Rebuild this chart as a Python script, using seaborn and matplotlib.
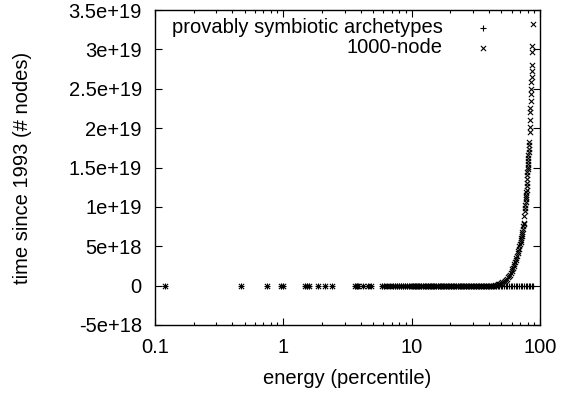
import matplotlib
matplotlib.use("Agg")
import matplotlib.pyplot as plt
import matplotlib.ticker as mticker
import seaborn as sns
import pandas as pd

plt.rcParams['font.family'] = ['Liberation Sans', 'DejaVu Sans']

# ---- data ----
x_low = [0.12, 0.47, 0.74, 0.96, 1.0, 1.47, 1.53, 1.58, 1.85, 2.1, 2.4,
         3.6, 3.75, 3.85, 4.2, 4.55, 4.8, 5.9, 6.1, 6.4, 6.8, 7.1, 7.4,
         7.7, 8.0, 8.3, 8.6, 8.9, 9.2, 9.6]
x_flat = [10.0, 10.3, 10.6, 10.9, 11.2, 11.5, 11.9, 12.2, 12.6, 13.0, 13.4,
          13.8, 14.2, 14.6, 15.0, 15.5, 16.0, 16.5, 17.0, 17.5, 18.0, 18.5,
          19.1, 19.7, 20.3, 20.9, 21.5, 22.2, 22.9, 23.6, 24.3, 25.0, 25.8,
          26.6, 27.4, 28.2, 29.0, 29.9, 30.8, 31.7, 32.7, 33.7, 34.7, 35.7,
          36.8, 37.9, 39.0, 40.2, 41.4, 42.7, 44.0]
x_flat_tail = [45.3, 46.7, 48.1, 49.5, 51.0, 52.5, 54.1, 55.7, 57.4, 59.1,
               60.9, 62.7, 64.6, 66.5, 68.5, 70.6, 72.7, 74.9, 77.1, 79.4,
               81.8, 84.3, 86.8, 88.3]
curve_x = [45.0, 46.0, 47.0, 48.0, 49.0, 50.0, 51.0, 52.0, 53.0, 54.0, 55.0,
           56.0, 57.0, 58.0, 59.0, 60.0, 61.0, 61.8, 62.5, 63.2, 64.0, 64.8,
           65.5, 66.2, 67.0, 67.8, 68.5, 69.2, 70.0, 70.5, 71.0, 71.5, 72.0,
           72.5, 73.0, 73.5, 74.0, 74.5, 75.0, 75.5, 76.0, 76.5, 77.0, 77.3,
           77.5, 77.8, 78.0, 78.3, 78.5, 78.8, 79.0, 79.3, 79.5, 79.8, 80.0,
           80.3, 80.5, 80.8, 81.0, 81.3, 81.5, 81.8, 82.0, 82.5, 83.0, 83.3,
           83.6, 84.0, 84.3, 84.7, 85.0, 85.3, 85.6, 86.0, 86.3, 86.6, 87.0,
           87.3, 88.3]
curve_y = [0.10e18, 0.12e18, 0.15e18, 0.20e18, 0.25e18, 0.32e18, 0.40e18,
           0.50e18, 0.60e18, 0.75e18, 0.90e18, 1.05e18, 1.20e18, 1.40e18,
           1.60e18, 1.85e18, 2.10e18, 2.30e18, 2.50e18, 2.75e18, 3.00e18,
           3.25e18, 3.50e18, 3.80e18, 4.10e18, 4.40e18, 4.70e18, 5.00e18,
           5.30e18, 5.55e18, 5.80e18, 6.05e18, 6.30e18, 6.55e18, 6.80e18,
           7.20e18, 7.60e18, 7.80e18, 8.00e18, 8.80e18, 9.50e18, 9.90e18,
           10.2e18, 10.6e18, 11.0e18, 11.2e18, 11.5e18, 11.9e18, 12.2e18,
           12.6e18, 13.0e18, 13.5e18, 14.0e18, 14.4e18, 14.8e18, 15.1e18,
           15.5e18, 15.8e18, 16.2e18, 16.6e18, 17.0e18, 17.4e18, 17.8e18,
           18.2e18, 19.5e18, 20.2e18, 21.0e18, 22.0e18, 22.5e18, 23.5e18,
           24.3e18, 25.0e18, 25.8e18, 26.5e18, 27.3e18, 28.0e18, 29.7e18,
           30.4e18, 33.2e18]
labels = ["provably symbiotic archetypes", "1000-node"]
yticks = [-5e18, 0, 5e18, 1e19, 1.5e19, 2e19, 2.5e19, 3e19, 3.5e19]
ytick_labels = ["-5e+18", "0", "5e+18", "1e+19", "1.5e+19", "2e+19",
                "2.5e+19", "3e+19", "3.5e+19"]
xticks = [0.1, 1, 10, 100]
xtick_labels = ["0.1", "1", "10", "100"]

sym_x = x_low + x_flat + x_flat_tail
sym_df = pd.DataFrame({"x": sym_x, "y": [0.0] * len(sym_x)})
node_x = x_low + x_flat + curve_x
node_y = [0.0] * (len(x_low) + len(x_flat)) + curve_y
node_df = pd.DataFrame({"x": node_x, "y": node_y})

fig = plt.figure(figsize=(5.67, 3.93), dpi=100)
ax = fig.add_axes([155 / 567, 1 - 325 / 393, 385 / 567, 315 / 393])

sns.scatterplot(data=sym_df, x="x", y="y", marker="+", color="black",
                s=16, linewidth=0.8, ax=ax, label=labels[0])
sns.scatterplot(data=node_df, x="x", y="y", marker="x", color="black",
                s=14, linewidth=0.8, ax=ax, label=labels[1])

ax.set_xscale("log")
ax.set_xlim(0.1, 100)
ax.set_ylim(-5e18, 3.5e19)
ax.xaxis.set_major_locator(mticker.FixedLocator(xticks))
ax.xaxis.set_major_formatter(mticker.FixedFormatter(xtick_labels))
ax.xaxis.set_minor_locator(mticker.LogLocator(base=10, subs=range(2, 10)))
ax.xaxis.set_minor_formatter(mticker.NullFormatter())
ax.yaxis.set_major_locator(mticker.FixedLocator(yticks))
ax.yaxis.set_major_formatter(mticker.FixedFormatter(ytick_labels))

ax.tick_params(which="major", direction="in", length=5, width=0.8,
               top=True, right=True, labelsize=14.5, colors="black")
ax.tick_params(axis="y", which="major", pad=9.5)
ax.tick_params(axis="x", which="major", pad=9.5)
ax.tick_params(which="minor", direction="in", length=2.5, width=0.8,
               top=True, right=True)
for sp in ax.spines.values():
    sp.set_linewidth(1.0)
    sp.set_color("black")

ax.set_xlabel("energy (percentile)", fontsize=14.5, labelpad=8.5)
ax.set_ylabel("time since 1993 (# nodes)", fontsize=14.5, labelpad=26)

leg = ax.legend(loc="upper right", bbox_to_anchor=(0.888, 0.987),
                frameon=False, markerfirst=False, fontsize=14.5,
                handlelength=1.0, handletextpad=1.5, borderpad=0.2,
                borderaxespad=0.0, labelspacing=0.05, markerscale=1.0)

fig.savefig("out.png", dpi=100)
